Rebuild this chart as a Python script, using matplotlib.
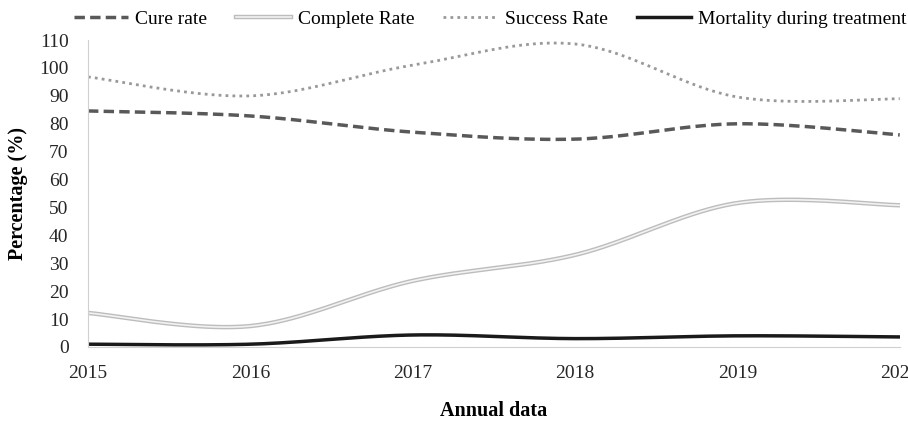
import numpy as np
import matplotlib
matplotlib.use("Agg")
from matplotlib import pyplot as plt
import matplotlib.patheffects as pe

years = [2015, 2016, 2017, 2018, 2019, 2020]
cure_rate = [84.6, 82.8, 77.0, 74.5, 80.0, 76.0]
complete_rate = [12.2, 7.5, 23.7, 33.0, 51.6, 50.8]
success_rate = [96.8, 90.0, 101.0, 108.6, 89.6, 89.0]
mortality = [1.0, 1.0, 4.3, 3.0, 4.0, 3.6]


def smooth(xs, ys, n=40):
    # Excel-style smoothed line (Bezier through the points)
    x = np.asarray(xs, float)
    y = np.asarray(ys, float)
    px = np.concatenate([[x[0]], x, [x[-1]]])
    py = np.concatenate([[y[0]], y, [y[-1]]])
    out_x, out_y = [], []
    t = np.linspace(0, 1, n)
    for i in range(1, len(px) - 2):
        p0 = np.array([px[i], py[i]])
        p3 = np.array([px[i + 1], py[i + 1]])
        p1 = p0 + (p3 - np.array([px[i - 1], py[i - 1]])) / 6
        p2 = p3 - (np.array([px[i + 2], py[i + 2]]) - p0) / 6
        b = ((1 - t) ** 3)[:, None] * p0 + (3 * (1 - t) ** 2 * t)[:, None] * p1 \
            + (3 * (1 - t) * t ** 2)[:, None] * p2 + (t ** 3)[:, None] * p3
        out_x.extend(b[:, 0])
        out_y.extend(b[:, 1])
    return out_x, out_y


plt.rcParams['font.family'] = ['Liberation Serif', 'DejaVu Serif']
fig = plt.figure(figsize=(9.08, 4.21), dpi=100)
ax = fig.add_axes([0.0969, 0.1758, 0.894, 0.729])

ax.plot(*smooth(years, cure_rate), color="#595959", lw=2.5, ls=(0, (3, 1.5)), label="Cure rate")
ax.plot(*smooth(years, complete_rate), color="#f2f2f2", lw=1.2, label="Complete Rate",
        path_effects=[pe.Stroke(linewidth=3.2, foreground="#bdbdbd"), pe.Normal()])
ax.plot(*smooth(years, success_rate), color="#999999", lw=2, ls=(0, (1, 1.5)), label="Success Rate")
ax.plot(*smooth(years, mortality), color="#1a1a1a", lw=2.5, label="Mortality during treatment")

ax.set_xlim(2015, 2020)
ax.set_ylim(0, 110)
ax.set_yticks(np.arange(0, 111, 10))
ax.set_xticks(years)
ax.tick_params(length=0, labelsize=14, colors="#262626")
ax.tick_params(axis="y", pad=14)
ax.tick_params(axis="x", pad=13)
for s in ["top", "right"]:
    ax.spines[s].set_visible(False)
ax.spines["left"].set_color("#d0d0d0")
ax.spines["bottom"].set_color("#d0d0d0")

ax.set_ylabel("Percentage (%)", fontsize=14.5, fontweight="bold", labelpad=8)
ax.set_xlabel("Annual data", fontsize=14.5, fontweight="bold", labelpad=14)

ax.legend(loc="upper left", bbox_to_anchor=(-0.022, 1.11), ncol=4, frameon=False,
          fontsize=14, handlelength=2.8, columnspacing=1.5, handletextpad=0.35,
          borderaxespad=0, borderpad=0.2)

fig.savefig("out.png", dpi=100)
